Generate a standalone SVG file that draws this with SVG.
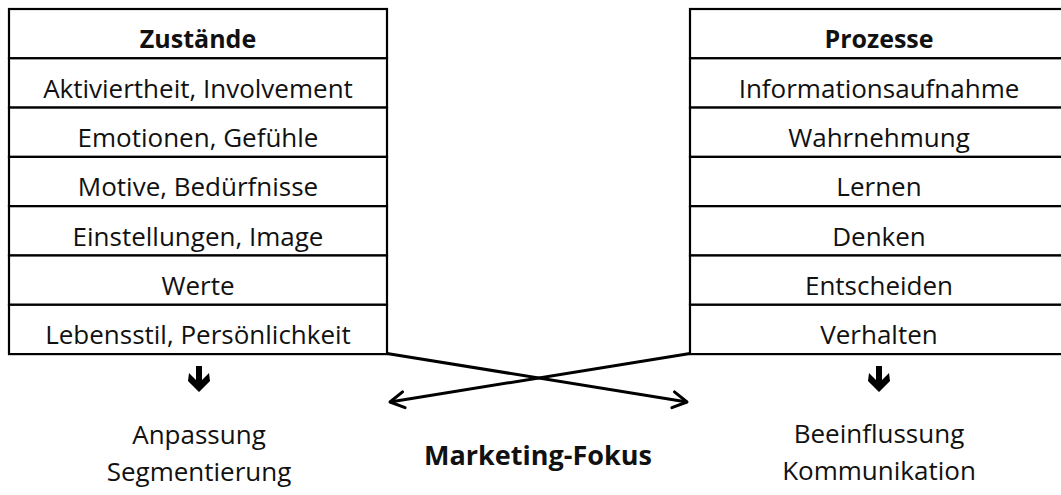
<svg xmlns="http://www.w3.org/2000/svg" width="1061" height="495" viewBox="0 0 1061 495">
  <style>
    .cell { fill: #ffffff; stroke: #000000; stroke-width: 2.2; }
    .t { font-family: "Open Sans", Lato, "Liberation Sans", sans-serif; font-size: 26px; fill: #111111; text-anchor: middle; }
    .b { font-weight: bold; font-size: 25px; }
    .focus { font-weight: bold; font-size: 27px; }
    .link { fill: none; stroke: #000000; stroke-width: 3; }
    .down { fill: #000000; }
  </style>
  <defs>
    <marker id="open" viewBox="0 0 20 20" refX="18" refY="10" markerWidth="20" markerHeight="20" markerUnits="userSpaceOnUse" orient="auto">
      <path d="M4 2 L18 10 L4 18" fill="none" stroke="#000000" stroke-width="3" stroke-linecap="round" stroke-linejoin="round"/>
    </marker>
    <path id="downArrow" class="down" d="M-3 0 H3 V14 L10 7 L11 15 L0 26 L-11 15 L-10 7 L-3 14 Z"/>
  </defs>

  <!-- Zustände column -->
  <g id="zustaende">
    <rect class="cell" x="9" y="9" width="378" height="49.3"/>
    <rect class="cell" x="9" y="58.3" width="378" height="49.3"/>
    <rect class="cell" x="9" y="107.6" width="378" height="49.3"/>
    <rect class="cell" x="9" y="156.9" width="378" height="49.3"/>
    <rect class="cell" x="9" y="206.2" width="378" height="49.3"/>
    <rect class="cell" x="9" y="255.5" width="378" height="49.3"/>
    <rect class="cell" x="9" y="304.8" width="378" height="49.3"/>
    <text class="t b" x="198" y="48">Zustände</text>
    <text class="t" x="198" y="97.5">Aktiviertheit, Involvement</text>
    <text class="t" x="198" y="147">Emotionen, Gefühle</text>
    <text class="t" x="198" y="196">Motive, Bedürfnisse</text>
    <text class="t" x="198" y="245.5">Einstellungen, Image</text>
    <text class="t" x="198" y="294.5">Werte</text>
    <text class="t" x="198" y="344">Lebensstil, Persönlichkeit</text>
  </g>

  <!-- Prozesse column -->
  <g id="prozesse">
    <rect class="cell" x="690" y="9" width="378" height="49.3"/>
    <rect class="cell" x="690" y="58.3" width="378" height="49.3"/>
    <rect class="cell" x="690" y="107.6" width="378" height="49.3"/>
    <rect class="cell" x="690" y="156.9" width="378" height="49.3"/>
    <rect class="cell" x="690" y="206.2" width="378" height="49.3"/>
    <rect class="cell" x="690" y="255.5" width="378" height="49.3"/>
    <rect class="cell" x="690" y="304.8" width="378" height="49.3"/>
    <text class="t b" x="879" y="48">Prozesse</text>
    <text class="t" x="879" y="97.5">Informationsaufnahme</text>
    <text class="t" x="879" y="147">Wahrnehmung</text>
    <text class="t" x="879" y="196">Lernen</text>
    <text class="t" x="879" y="245.5">Denken</text>
    <text class="t" x="879" y="294.5">Entscheiden</text>
    <text class="t" x="879" y="344">Verhalten</text>
  </g>

  <!-- Outcomes below each column -->
  <g id="anpassung">
    <use href="#downArrow" x="199" y="366"/>
    <text class="t" x="199" y="444">Anpassung</text>
    <text class="t" x="199" y="481">Segmentierung</text>
  </g>
  <g id="beeinflussung">
    <use href="#downArrow" x="879" y="366"/>
    <text class="t" x="879" y="443">Beeinflussung</text>
    <text class="t" x="879" y="480">Kommunikation</text>
  </g>
  <g id="marketing-fokus">
    <text class="t focus" x="538" y="465">Marketing-Fokus</text>
  </g>

  <!-- Crossing connectors -->
  <g id="connectors">
    <line class="link" x1="387" y1="353.5" x2="687" y2="402" marker-end="url(#open)"/>
    <line class="link" x1="690" y1="353.5" x2="390" y2="402" marker-end="url(#open)"/>
  </g>
</svg>
